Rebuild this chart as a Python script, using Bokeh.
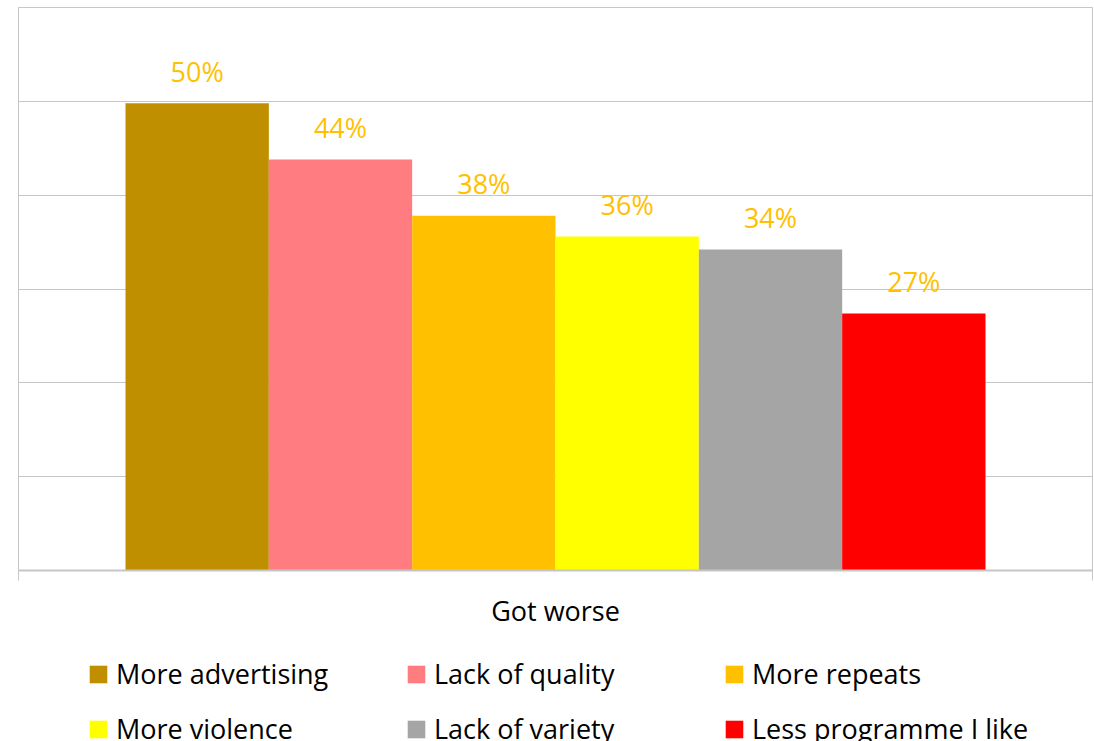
from bokeh.plotting import figure
from bokeh.layouts import column
from bokeh.models import ColumnDataSource, Range1d, FixedTicker, Legend, LegendItem
from bokeh.core.properties import value
from bokeh.embed import file_html
from bokeh.resources import INLINE

categories = ["More advertising", "Lack of quality", "More repeats",
              "More violence", "Lack of variety", "Less programme I like"]
values = [49.8, 43.8, 37.8, 35.6, 34.2, 27.4]
colors = ["#BF8F00", "#FF7C80", "#FFC000", "#FFFF00", "#A5A5A5", "#FF0000"]
group_label = "Got worse"
y_ticks = [0, 10, 20, 30, 40, 50, 60]

FONT = "Open Sans"
xs = list(range(len(categories)))
labels = [f"{round(v)}%" for v in values]

src = ColumnDataSource(dict(x=xs, top=values, color=colors, cat=categories, lab=labels))

# ---- main chart ----
p = figure(width=1094, height=640, output_backend="svg", toolbar_location=None,
           x_range=Range1d(-1.2465, 6.2465), y_range=Range1d(0, 60),
           min_border_left=18, min_border_right=2, min_border_top=7, min_border_bottom=70)

p.vbar(x="x", top="top", width=1.0, bottom=0, color="color", line_color=None, source=src)
p.text(x="x", y="top", text="lab", source=src, text_align="center", text_baseline="alphabetic",
       y_offset=-32, text_color="#FFC000", text_font=value(FONT), text_font_size="27px")

p.outline_line_color = "#c6c6c6"
p.outline_line_width = 1
p.yaxis.visible = False
p.ygrid.ticker = FixedTicker(ticks=y_ticks)
p.ygrid.grid_line_color = "#c6c6c6"
p.xgrid.visible = False

xa = p.xaxis[0]
xa.ticker = FixedTicker(ticks=[-1.2465, 6.2465])
xa.major_label_text_font_size = "0px"
xa.major_tick_in = 0
xa.major_tick_out = 10
xa.minor_tick_in = 0
xa.minor_tick_out = 0
xa.major_tick_line_color = "#c6c6c6"
xa.axis_line_color = "#c6c6c6"
xa.axis_line_width = 2
xa.axis_label = group_label
xa.axis_label_text_font = FONT
xa.axis_label_text_font_size = "27px"
xa.axis_label_text_font_style = "normal"
xa.axis_label_text_color = "#000000"
xa.axis_label_standoff = 11

# ---- legend strip ----
lp = figure(width=1094, height=101, output_backend="svg", toolbar_location=None,
            x_range=Range1d(100, 200), y_range=Range1d(100, 200),
            min_border_left=0, min_border_right=0, min_border_top=0, min_border_bottom=0)
lp.axis.visible = False
lp.grid.visible = False
lp.outline_line_color = None
lr = lp.vbar(x="x", top="top", width=1.0, bottom=0, color="color", line_color=None, source=src)

# legend fills column by column: order so rows read like the reference
order = [0, 3, 1, 4, 2, 5]
items = [LegendItem(label=categories[i], renderers=[lr], index=i) for i in order]
legend = Legend(items=items, ncols=3, location=(69, -15),
                glyph_width=22, glyph_height=22, label_standoff=7, label_width=289,
                label_height=55, spacing=0, padding=0, margin=0,
                border_line_color=None, background_fill_alpha=0,
                label_text_font=FONT, label_text_font_size="27px", label_text_color="#000000")
lp.add_layout(legend, "center")

layout = column(p, lp, spacing=0)
open("out.html", "w").write(file_html(layout, INLINE))
